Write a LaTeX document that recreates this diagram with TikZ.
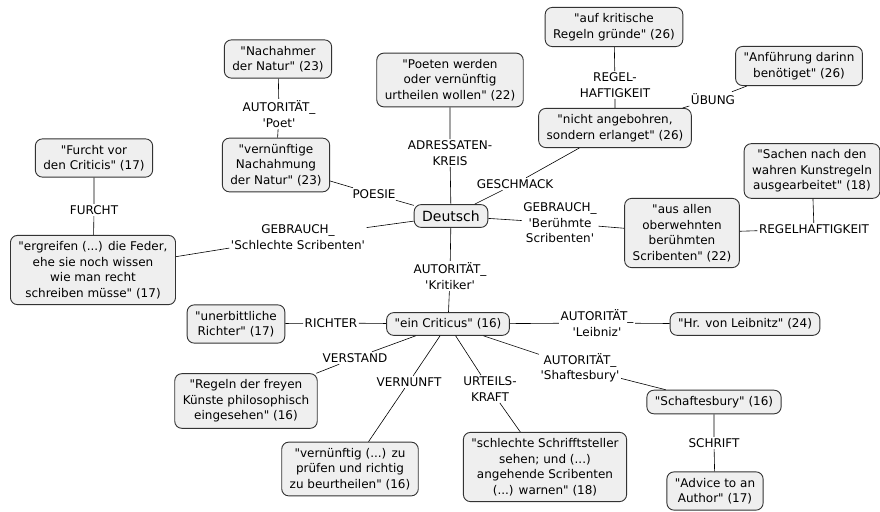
\documentclass[tikz,border=0pt]{standalone}
\usepackage{fontspec}
\setmainfont{DejaVu Sans}[Ligatures=TeXOff]
\usepackage{tikz}
\usetikzlibrary{positioning}
\definecolor{cmFill}{HTML}{EFEFEF}
\definecolor{cmLine}{HTML}{333333}

\tikzset{
  concept/.style={draw=cmLine, fill=cmFill, line width=0.9pt, rounded corners=7pt,
    align=center, font=\fontsize{12}{15.5}\selectfont, inner xsep=8pt, inner ysep=6pt},
  linkphrase/.style={align=center, font=\fontsize{12}{15.5}\selectfont, inner sep=1.5pt},
  wire/.style={draw=black, line width=0.6pt}
}

\begin{document}
\begin{tikzpicture}[x=1pt, y=-1pt]
\useasboundingbox (0,0) rectangle (880,511);

% concepts
\node[concept, font=\fontsize{14}{17}\selectfont, inner ysep=6pt] (deutsch) at (451,216) {Deutsch};
\node[concept] (nachahmer) at (278,59) {"Nachahmer\\der Natur" (23)};
\node[concept] (poeten) at (450,80) {"Poeten werden\\oder vernünftig\\urtheilen wollen" (22)};
\node[concept] (regeln) at (614,27) {"auf kritische\\Regeln gründe" (26)};
\node[concept] (anfuehrung) at (799,66) {"Anführung darinn\\benötiget" (26)};
\node[concept] (angebohren) at (615,128) {"nicht angebohren,\\sondern erlanget" (26)};
\node[concept] (furcht) at (94,158) {"Furcht vor\\den Criticis" (17)};
\node[concept] (nachahmung) at (276,165) {"vernünftige\\Nachahmung\\der Natur" (23)};
\node[concept] (sachen) at (812,171) {"Sachen nach den\\wahren Kunstregeln\\ausgearbeitet" (18)};
\node[concept] (feder) at (93,270) {"ergreifen (...) die Feder,\\ehe sie noch wissen\\wie man recht\\schreiben müsse" (17)};
\node[concept] (scribenten) at (682,233) {"aus allen\\oberwehnten\\berühmten\\Scribenten" (22)};
\node[concept] (richter) at (236,324) {"unerbittliche\\Richter" (17)};
\node[concept] (criticus) at (448,324) {"ein Criticus" (16)};
\node[concept] (leibnitz) at (745,324) {"Hr. von Leibnitz" (24)};
\node[concept] (kuenste) at (246,401) {"Regeln der freyen\\Künste philosophisch\\eingesehen" (16)};
\node[concept] (pruefen) at (350,469) {"vernünftig (...) zu\\prüfen und richtig\\zu beurtheilen" (16)};
\node[concept] (warnen) at (545,467) {"schlechte Schrifftsteller\\sehen; und (...)\\angehende Scribenten\\(...) warnen" (18)};
\node[concept] (schaftesbury) at (714,402) {"Schaftesbury" (16)};
\node[concept] (advice) at (715,491) {"Advice to an\\Author" (17)};

% linking phrases
\node[linkphrase] (lpoet) at (279,114) {AUTORITÄT\_\\'Poet'};
\node[linkphrase] (ladr) at (450,153) {ADRESSATEN-\\KREIS};
\node[linkphrase] (lpoesie) at (374,194) {POESIE};
\node[linkphrase] (lgeschmack) at (515,184) {GESCHMACK};
\node[linkphrase] (lregel) at (615,85) {REGEL-\\HAFTIGKEIT};
\node[linkphrase] (luebung) at (713,99) {ÜBUNG};
\node[linkphrase] (lfurcht) at (94,210) {FURCHT};
\node[linkphrase] (lschlecht) at (298,237) {GEBRAUCH\_\\'Schlechte Scribenten'};
\node[linkphrase] (lberuehmt) at (560,223) {GEBRAUCH\_\\'Berühmte\\Scribenten'};
\node[linkphrase] (lregelh) at (814,229) {REGELHAFTIGKEIT};
\node[linkphrase] (lkritiker) at (450,276) {AUTORITÄT\_\\'Kritiker'};
\node[linkphrase] (lrichter) at (331,323) {RICHTER};
\node[linkphrase] (lleibniz) at (597,323) {AUTORITÄT\_\\'Leibniz'};
\node[linkphrase] (lverstand) at (355,358) {VERSTAND};
\node[linkphrase] (lvernunft) at (409,382) {VERNUNFT};
\node[linkphrase] (lurteil) at (490,389) {URTEILS-\\KRAFT};
\node[linkphrase] (lshaft) at (580,368) {AUTORITÄT\_\\'Shaftesbury'};
\node[linkphrase] (lschrift) at (714,443) {SCHRIFT};

% connectors
\foreach \a/\l/\b in {nachahmung/lpoet/nachahmer, deutsch/ladr/poeten,
  deutsch/lpoesie/nachahmung, deutsch/lgeschmack/angebohren,
  angebohren/lregel/regeln, angebohren/luebung/anfuehrung,
  feder/lfurcht/furcht, deutsch/lschlecht/feder, deutsch/lberuehmt/scribenten,
  scribenten/lregelh/sachen, deutsch/lkritiker/criticus,
  criticus/lrichter/richter, criticus/lleibniz/leibnitz,
  criticus/lverstand/kuenste, criticus/lvernunft/pruefen,
  criticus/lurteil/warnen, criticus/lshaft/schaftesbury,
  schaftesbury/lschrift/advice}{
  \draw[wire] (\a) -- (\l) (\l) -- (\b);
}
\end{tikzpicture}
\end{document}
